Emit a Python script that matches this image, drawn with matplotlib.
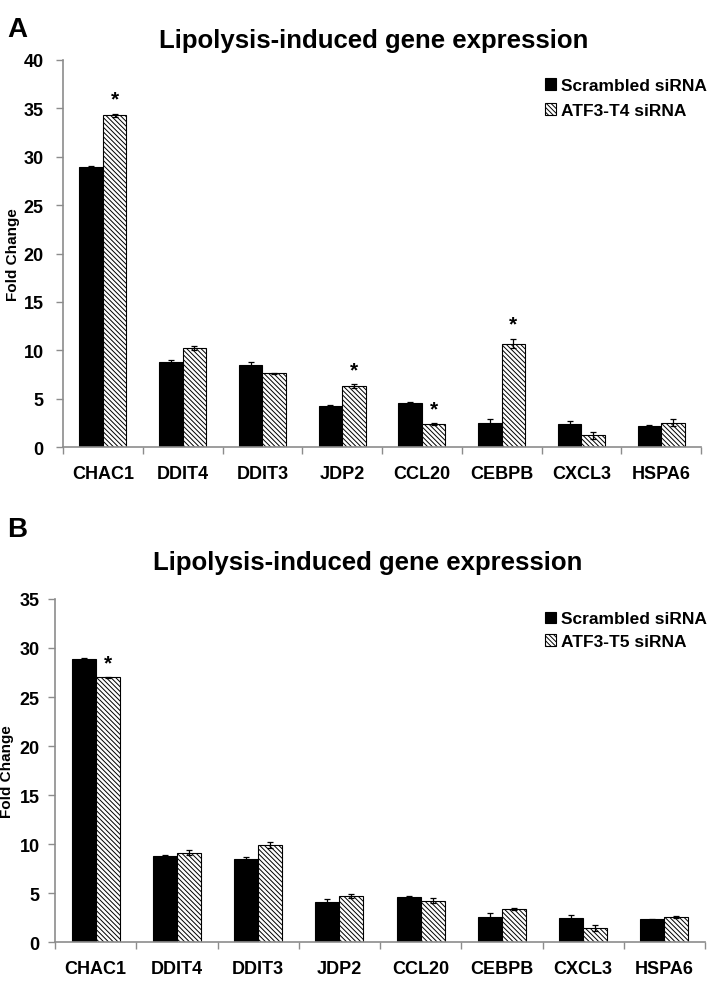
import matplotlib
matplotlib.use("Agg")
import matplotlib.pyplot as plt
import numpy as np

plt.rcParams['font.family'] = ['Liberation Sans', 'DejaVu Sans']
plt.rcParams['font.weight'] = 'bold'
plt.rcParams['hatch.linewidth'] = 0.7

genes = ['CHAC1', 'DDIT4', 'DDIT3', 'JDP2', 'CCL20', 'CEBPB', 'CXCL3', 'HSPA6']

# panel A
scr_a = [28.9, 8.8, 8.5, 4.2, 4.6, 2.5, 2.4, 2.2]
scr_a_err = [0.1, 0.15, 0.3, 0.1, 0.1, 0.35, 0.3, 0.1]
t4 = [34.3, 10.2, 7.6, 6.3, 2.4, 10.7, 1.2, 2.5]
t4_err = [0.15, 0.2, 0.1, 0.2, 0.1, 0.5, 0.4, 0.35]
star_a = [True, False, False, True, True, True, False, False]

# panel B
scr_b = [28.9, 8.8, 8.5, 4.1, 4.6, 2.6, 2.4, 2.3]
scr_b_err = [0.05, 0.1, 0.2, 0.25, 0.1, 0.35, 0.35, 0.05]
t5 = [27.0, 9.1, 9.9, 4.7, 4.2, 3.4, 1.4, 2.6]
t5_err = [0.05, 0.25, 0.35, 0.25, 0.25, 0.1, 0.3, 0.1]
star_b = [True, False, False, False, False, False, False, False]

GRAY = '#8c8c8c'


def panel(ax, scr, scr_err, kd, kd_err, stars, ymax, kd_label, ypad):
    x = np.arange(len(genes))
    w = 0.295
    ax.bar(x - w / 2, scr, w, color='black', edgecolor='black', linewidth=0.8,
           yerr=scr_err, error_kw=dict(ecolor='black', elinewidth=0.9, capsize=2.5, capthick=0.9),
           label='Scrambled siRNA')
    ax.bar(x + w / 2, kd, w, color='white', edgecolor='black', linewidth=0.8, hatch='\\' * 7,
           yerr=kd_err, error_kw=dict(ecolor='black', elinewidth=0.9, capsize=2.5, capthick=0.9),
           label=kd_label)
    for i in range(len(genes)):
        if stars[i]:
            ax.text(x[i] + w / 2, kd[i] + kd_err[i] + 0.5, '*', ha='center', va='bottom',
                    fontsize=15, fontweight='bold')
    ax.set_xlim(-0.5, len(genes) - 0.5)
    ax.set_ylim(0, ymax)
    ax.set_yticks(np.arange(0, ymax + 1, 5))
    ax.set_xticks(x)
    ax.set_xticklabels(genes, fontsize=13, fontweight='bold')
    ax.set_xticks(np.arange(-0.5, len(genes)), minor=True)
    ax.tick_params(axis='x', which='major', length=0, pad=13)
    ax.tick_params(axis='x', which='minor', length=5, color=GRAY, width=1)
    ax.tick_params(axis='y', length=5, color=GRAY, width=1, labelsize=13, pad=ypad)
    for lab in ax.get_yticklabels():
        lab.set_fontweight('bold')
    for s in ['top', 'right']:
        ax.spines[s].set_visible(False)
    for s in ['left', 'bottom']:
        ax.spines[s].set_color(GRAY)
        ax.spines[s].set_linewidth(1.2)
    ax.set_ylabel('Fold Change', fontsize=11, fontweight='bold')


fig = plt.figure(figsize=(7.26, 10.03), dpi=100)

ax1 = fig.add_axes([0.0868, 0.5533, 0.8788, 0.3859])
panel(ax1, scr_a, scr_a_err, t4, t4_err, star_a, 40, 'ATF3-T4 siRNA', 9)
ax1.yaxis.set_label_coords(-0.068, 0.5)
ax1.legend(loc='upper right', bbox_to_anchor=(0.985, 0.93), bbox_transform=fig.transFigure,
           frameon=False, fontsize=12.5, handlelength=0.65, handleheight=0.65,
           handletextpad=0.25, labelspacing=0.6, borderpad=0)
fig.text(0.01, 0.97, 'A', fontsize=20, fontweight='bold', va='center')
fig.text(0.515, 0.959, 'Lipolysis-induced gene expression', fontsize=18.5, fontweight='bold',
         ha='center', va='center')

ax2 = fig.add_axes([0.0758, 0.0598, 0.8953, 0.3420])
panel(ax2, scr_b, scr_b_err, t5, t5_err, star_b, 35, 'ATF3-T5 siRNA', 6)
ax2.yaxis.set_label_coords(-0.063, 0.5)
ax2.legend(loc='upper right', bbox_to_anchor=(0.985, 0.398), bbox_transform=fig.transFigure,
           frameon=False, fontsize=12.5, handlelength=0.65, handleheight=0.65,
           handletextpad=0.25, labelspacing=0.45, borderpad=0)
fig.text(0.01, 0.472, 'B', fontsize=20, fontweight='bold', va='center')
fig.text(0.507, 0.439, 'Lipolysis-induced gene expression', fontsize=18.5, fontweight='bold',
         ha='center', va='center')

fig.savefig('out.png', dpi=100)
